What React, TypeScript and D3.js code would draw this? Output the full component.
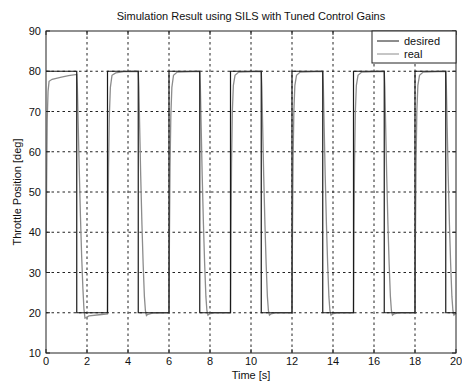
import { useEffect, useRef } from 'react'
import * as d3 from 'd3'

const title = 'Simulation Result using SILS with Tuned Control Gains'
const xLabel = 'Time [s]'
const yLabel = 'Throttle Position [deg]'
const xTicks = [0, 2, 4, 6, 8, 10, 12, 14, 16, 18, 20]
const yTicks = [10, 20, 30, 40, 50, 60, 70, 80, 90]
const legendLabels = ['desired', 'real']

// desired: square wave breakpoints
const desiredT = [0, 1.5, 1.5, 3, 3, 4.5, 4.5, 6, 6, 7.5, 7.5, 9, 9, 10.5, 10.5, 12, 12, 13.5, 13.5, 15, 15, 16.5, 16.5, 18, 18, 19.5, 19.5, 20]
const desiredV = [80, 80, 20, 20, 80, 80, 20, 20, 80, 80, 20, 20, 80, 80, 20, 20, 80, 80, 20, 20, 80, 80, 20, 20, 80, 80, 20, 20]

// real
const realT = [
  0, 0.03, 0.06, 0.1, 0.15, 0.3, 0.7, 1.1, 1.5,
  1.53, 1.57, 1.62, 1.68, 1.74, 1.8, 1.85, 1.9, 1.95, 2.1, 2.6, 3.0,
  3.02, 3.05, 3.09, 3.14, 3.22, 3.4, 3.8, 4.5,
  4.53, 4.57, 4.62, 4.68, 4.74, 4.8, 4.85, 4.9, 4.97, 5.2, 6.0,
  6.02, 6.05, 6.09, 6.14, 6.22, 6.4, 7.5,
  7.53, 7.57, 7.62, 7.68, 7.74, 7.8, 7.85, 7.9, 7.97, 8.2, 9.0,
  9.02, 9.05, 9.09, 9.14, 9.22, 9.4, 10.5,
  10.53, 10.57, 10.62, 10.68, 10.74, 10.8, 10.85, 10.9, 10.97, 11.2, 12.0,
  12.02, 12.05, 12.09, 12.14, 12.22, 12.4, 13.5,
  13.53, 13.57, 13.62, 13.68, 13.74, 13.8, 13.85, 13.9, 13.97, 14.2, 15.0,
  15.02, 15.05, 15.09, 15.14, 15.22, 15.4, 16.5,
  16.53, 16.57, 16.62, 16.68, 16.74, 16.8, 16.85, 16.9, 16.97, 17.2, 18.0,
  18.02, 18.05, 18.09, 18.14, 18.22, 18.4, 19.5,
  19.53, 19.57, 19.62, 19.68, 19.74, 19.8, 19.85, 19.9, 19.97, 20,
]
const realV = [
  30, 52, 68, 75, 77.5, 78, 78.5, 78.9, 79.2,
  76, 67, 56, 44, 34, 26, 21, 18.7, 18.8, 19.2, 19.5, 19.7,
  38, 56, 69, 76, 79, 79.6, 79.9, 80,
  76, 66, 54, 42, 32, 24, 20.5, 19.3, 19.6, 19.9, 20,
  38, 56, 69, 76, 79, 79.8, 80,
  76, 66, 54, 42, 32, 24, 20.5, 19.4, 19.7, 20, 20,
  38, 57, 70, 76.5, 79, 79.8, 80,
  76, 66, 54, 42, 32, 24, 20.5, 19.4, 19.7, 20, 20,
  38, 57, 70, 76.5, 79, 79.8, 80,
  76, 66, 54, 42, 32, 24, 20.5, 19.4, 19.7, 20, 20,
  38, 57, 70, 76.5, 79, 79.8, 80,
  76, 66, 54, 42, 32, 24, 20.5, 19.4, 19.7, 20, 20,
  38, 57, 70, 76.5, 79, 79.8, 80,
  76, 66, 54, 42, 32, 24, 20.5, 19.4, 19.7, 20,
]

const desired = desiredT.map((t, i) => [t, desiredV[i]] as [number, number])
const real = realT.map((t, i) => [t, realV[i]] as [number, number])

const W = 462
const H = 385
const font = 'Liberation Sans, Arial, sans-serif'

export default function App() {
  const svgRef = useRef<SVGSVGElement>(null)

  useEffect(() => {
    const svgEl = svgRef.current
    if (!svgEl) return
    const margin = { top: 31, right: 6, bottom: 32, left: 46 }
    const innerW = W - margin.left - margin.right
    const innerH = H - margin.top - margin.bottom

    const x = d3.scaleLinear().domain([0, 20]).range([0, innerW])
    const y = d3.scaleLinear().domain([10, 90]).range([innerH, 0])

    const svg = d3.select(svgEl)
    svg.selectAll('*').remove()
    svg.append('rect').attr('width', W).attr('height', H).attr('fill', '#fff')

    const g = svg.append('g').attr('transform', `translate(${margin.left},${margin.top})`)

    // Grid (dotted)
    g.selectAll('.vgrid')
      .data(xTicks.slice(1, -1))
      .join('line')
      .attr('x1', d => x(d)).attr('x2', d => x(d))
      .attr('y1', 0).attr('y2', innerH)
      .style('stroke', '#222').style('stroke-width', '1')
      .style('stroke-dasharray', '2.5 3')
    g.selectAll('.hgrid')
      .data(yTicks.slice(1, -1))
      .join('line')
      .attr('x1', 0).attr('x2', innerW)
      .attr('y1', d => y(d)).attr('y2', d => y(d))
      .style('stroke', '#222').style('stroke-width', '1')
      .style('stroke-dasharray', '2.5 3')

    const line = d3.line<[number, number]>().x(d => x(d[0])).y(d => y(d[1]))

    g.append('path').datum(real).attr('fill', 'none').attr('d', line)
      .style('stroke', '#8c8c8c').style('stroke-width', '1.3')
    g.append('path').datum(desired).attr('fill', 'none').attr('d', line)
      .style('stroke', '#1a1a1a').style('stroke-width', '1.2')

    // Box
    g.append('rect').attr('width', innerW).attr('height', innerH)
      .attr('fill', 'none').style('stroke', '#222').style('stroke-width', '1')

    // Ticks inside
    const tl = 4
    xTicks.forEach(t => {
      g.append('line').attr('x1', x(t)).attr('x2', x(t)).attr('y1', innerH).attr('y2', innerH - tl).style('stroke', '#222')
      g.append('line').attr('x1', x(t)).attr('x2', x(t)).attr('y1', 0).attr('y2', tl).style('stroke', '#222')
    })
    yTicks.forEach(t => {
      g.append('line').attr('x1', 0).attr('x2', tl).attr('y1', y(t)).attr('y2', y(t)).style('stroke', '#222')
      g.append('line').attr('x1', innerW).attr('x2', innerW - tl).attr('y1', y(t)).attr('y2', y(t)).style('stroke', '#222')
    })

    // Tick labels
    g.selectAll('.xt').data(xTicks).join('text')
      .attr('x', d => x(d)).attr('y', innerH + 12)
      .attr('text-anchor', 'middle')
      .style('font-family', font).style('font-size', '11px').style('fill', '#111')
      .text(d => `${d}`)
    g.selectAll('.yt').data(yTicks).join('text')
      .attr('x', -5).attr('y', d => y(d) + 4)
      .attr('text-anchor', 'end')
      .style('font-family', font).style('font-size', '11px').style('fill', '#111')
      .text(d => `${d}`)

    // Title and axis labels
    svg.append('text').attr('x', margin.left + innerW / 2).attr('y', 20)
      .attr('text-anchor', 'middle')
      .style('font-family', font).style('font-size', '11px').style('fill', '#111')
      .text(title)
    svg.append('text').attr('x', margin.left + innerW / 2).attr('y', 379)
      .attr('text-anchor', 'middle')
      .style('font-family', font).style('font-size', '11px').style('fill', '#111')
      .text(xLabel)
    svg.append('text')
      .attr('transform', `translate(21,${margin.top + innerH / 2}) rotate(-90)`)
      .attr('text-anchor', 'middle')
      .style('font-family', font).style('font-size', '11px').style('fill', '#111')
      .text(yLabel)

    // Legend
    const lg = g.append('g').attr('transform', `translate(${innerW - 84},0)`)
    lg.append('rect').attr('width', 84).attr('height', 32)
      .attr('fill', '#fff').style('stroke', '#222').style('stroke-width', '1')
    const legendColors = ['#1a1a1a', '#8c8c8c']
    legendLabels.forEach((lab, i) => {
      const yy = 10 + i * 13
      lg.append('line').attr('x1', 5).attr('x2', 27).attr('y1', yy).attr('y2', yy)
        .style('stroke', legendColors[i]).style('stroke-width', '1')
      lg.append('text').attr('x', 32).attr('y', yy + 4)
        .style('font-family', font).style('font-size', '11px').style('fill', '#111')
        .text(lab)
    })
  }, [])

  return (
    <div style={{ position: 'absolute', left: 0, top: 0 }}>
      <svg ref={svgRef} width={W} height={H} style={{ display: 'block' }} />
    </div>
  )
}
